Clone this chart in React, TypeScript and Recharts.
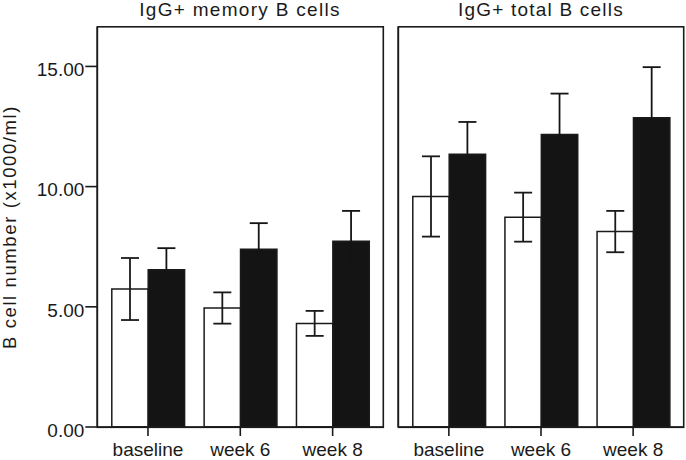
import React from 'react';
import { BarChart, Bar, XAxis, YAxis, ErrorBar } from 'recharts';

// two panels of grouped bars (open vs filled), mean +/- error
const categories = ['baseline', 'week 6', 'week 8'];

const memoryOpen = [5.74, 4.95, 4.31];
const memoryOpenErr = [1.29, 0.65, 0.52];
const memoryFilled = [6.54, 7.39, 7.73];
const memoryFilledErr = [0.9, 1.09, 1.26];

const totalOpen = [9.59, 8.73, 8.13];
const totalOpenErr = [1.67, 1.02, 0.86];
const totalFilled = [11.35, 12.17, 12.87];
const totalFilledErr = [1.34, 1.7, 2.1];

const yTicks = [0, 5, 10, 15];
const Y_MAX = 16.64;

const INK = '#1a1a1a';
const FILL = '#141414';
const FONT = '"Liberation Sans", Arial, Helvetica, sans-serif';

function rows(open: number[], openErr: number[], filled: number[], filledErr: number[]) {
  return categories.map((name, i) => ({
    name,
    open: open[i],
    openErr: openErr[i],
    filled: filled[i],
    filledErr: filledErr[i],
  }));
}

const memoryData = rows(memoryOpen, memoryOpenErr, memoryFilled, memoryFilledErr);
const totalData = rows(totalOpen, totalOpenErr, totalFilled, totalFilledErr);

const axisLine = { stroke: INK, strokeWidth: 1.6 };
const tickText = { fill: INK, fontSize: 19, fontFamily: FONT };

interface PanelProps {
  data: ReturnType<typeof rows>;
  width: number;
  leftWidth: number;
  rightMargin: number;
  showY: boolean;
}

function Panel({ data, width, leftWidth, rightMargin, showY }: PanelProps) {
  return (
    <BarChart
      width={width}
      height={460}
      data={data}
      margin={{ top: 27, right: rightMargin, bottom: 0, left: 0 }}
      barGap={0}
      barSize={36.4}
    >
      <XAxis
        dataKey="name"
        height={33}
        padding={{ left: 4.5, right: 4.5 }}
        axisLine={axisLine}
        tickLine={axisLine}
        tickSize={9}
        tickMargin={7}
        tick={tickText}
        interval={0}
      />
      <YAxis
        domain={[0, Y_MAX]}
        ticks={yTicks}
        width={leftWidth}
        allowDataOverflow
        axisLine={axisLine}
        tickLine={showY ? axisLine : false}
        tickSize={12}
        tickMargin={1}
        tick={showY ? { ...tickText, dy: 3 } : false}
        tickFormatter={(v: number) => v.toFixed(2)}
        label={
          showY
            ? {
                value: 'B cell number (x1000/ml)',
                angle: -90,
                position: 'insideLeft',
                offset: 9,
                style: { textAnchor: 'middle', fontSize: 18.5, letterSpacing: 1.6, fill: INK, fontFamily: FONT },
              }
            : undefined
        }
      />
      <Bar dataKey="open" fill="#ffffff" stroke={INK} strokeWidth={1.5} isAnimationActive={false}>
        <ErrorBar dataKey="openErr" width={9} stroke={INK} strokeWidth={1.8} />
      </Bar>
      <Bar dataKey="filled" fill={FILL} stroke={INK} strokeWidth={1.5} isAnimationActive={false}>
        <ErrorBar dataKey="filledErr" width={9} stroke={FILL} strokeWidth={1.8} />
      </Bar>
    </BarChart>
  );
}

const titleStyle: React.CSSProperties = {
  position: 'absolute',
  top: 0,
  fontFamily: FONT,
  fontSize: 19,
  lineHeight: '19px',
  color: INK,
  textAlign: 'center',
  whiteSpace: 'nowrap',
};

// panel frames (top/right edges of each plot box)
function Frames() {
  return (
    <svg
      width={686}
      height={460}
      style={{ position: 'absolute', left: 0, top: 0, pointerEvents: 'none' }}
    >
      <rect x={97.3} y={26.8} width={286} height={400.5} fill="none" stroke={INK} strokeWidth={1.6} />
      <rect x={398.3} y={26.8} width={285.4} height={400.5} fill="none" stroke={INK} strokeWidth={1.6} />
    </svg>
  );
}

export default function App() {
  return (
    <div style={{ position: 'absolute', left: 0, top: 0, width: 686, height: 460, background: '#fff' }}>
      <div style={{ ...titleStyle, left: 97, width: 286, letterSpacing: 1.3 }}>IgG+ memory B cells</div>
      <div style={{ ...titleStyle, left: 398, width: 286, letterSpacing: 1.2 }}>IgG+ total B cells</div>
      <div style={{ position: 'absolute', left: 0, top: 0 }}>
        <Panel data={memoryData} width={386} leftWidth={97.3} rightMargin={2.7} showY />
      </div>
      <div style={{ position: 'absolute', left: 390, top: 0 }}>
        <Panel data={totalData} width={296} leftWidth={8.3} rightMargin={2.3} showY={false} />
      </div>
      <Frames />
    </div>
  );
}
